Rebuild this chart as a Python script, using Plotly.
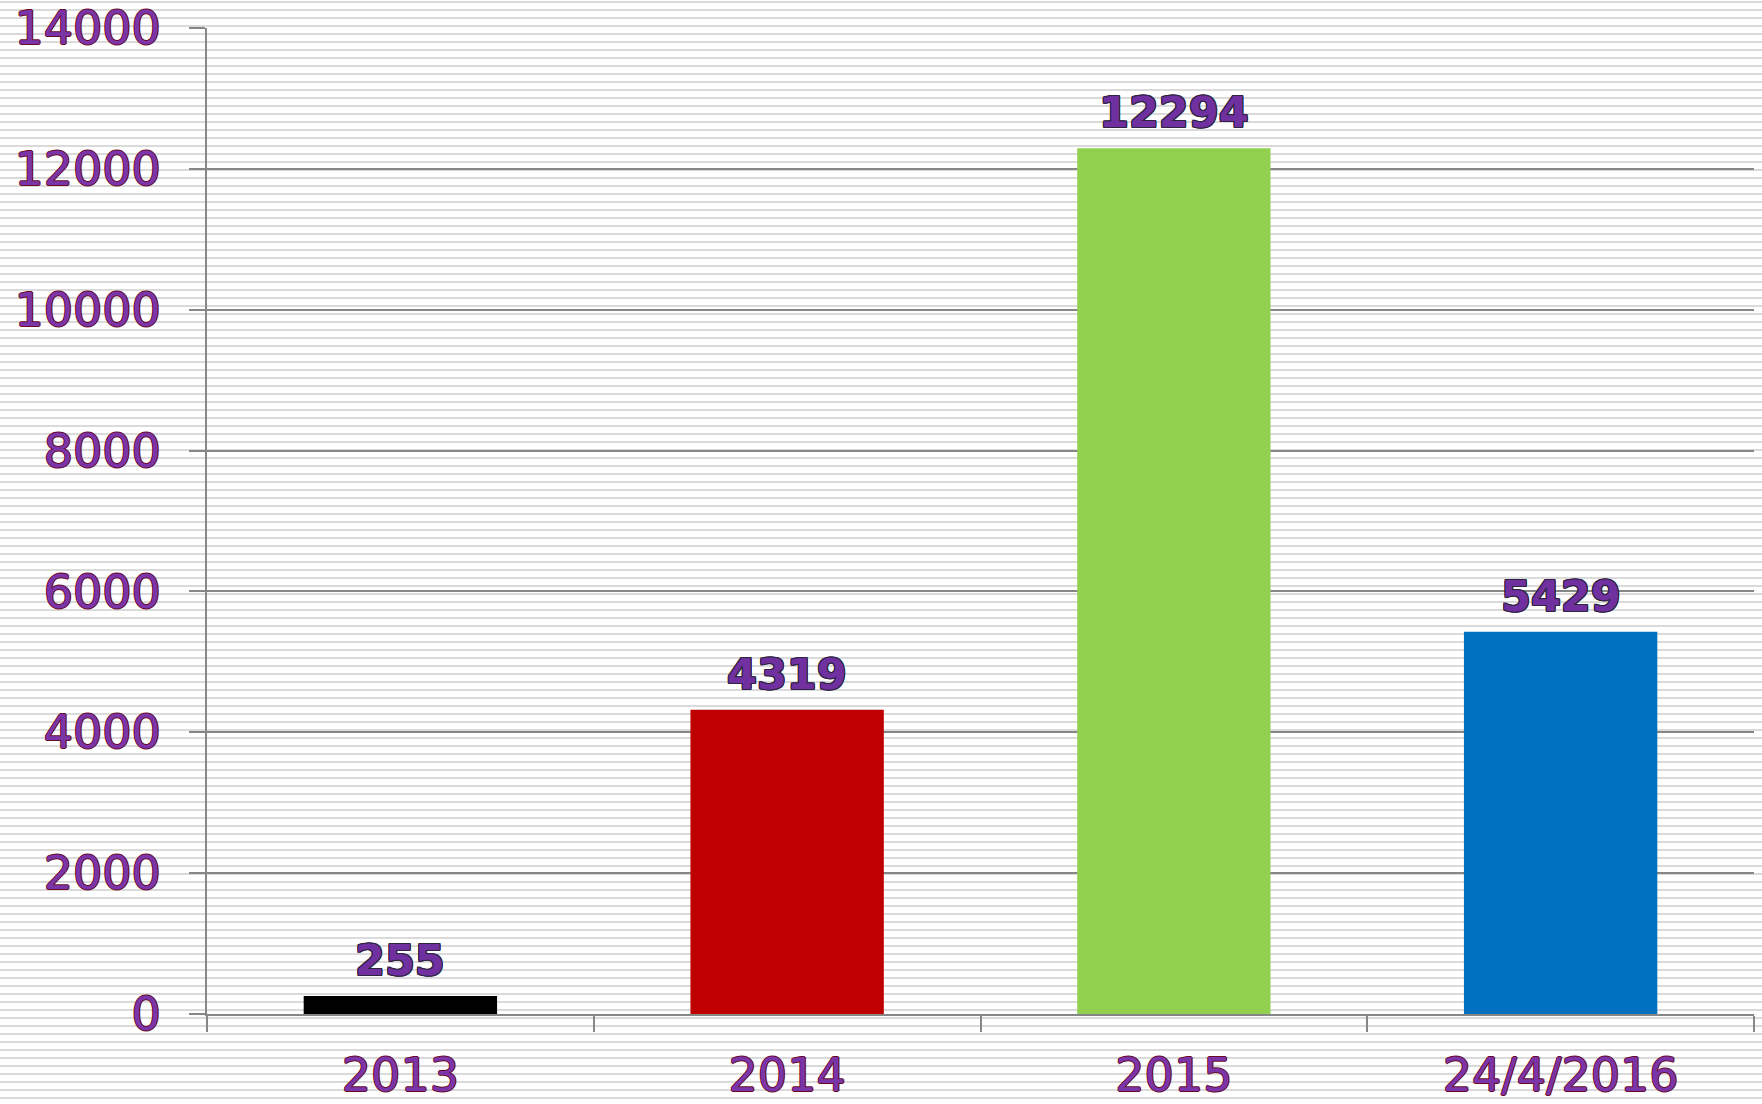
import plotly.graph_objects as go

categories = ["2013", "2014", "2015", "24/4/2016"]
values = [255, 4319, 12294, 5429]
bar_colors = ["#000000", "#C00000", "#92D050", "#0070C0"]
y_ticks = [0, 2000, 4000, 6000, 8000, 10000, 12000, 14000]
y_tick_labels = [str(v) for v in y_ticks]

W, H = 1762, 1104
ML, MR, MT, MB = 207, 8, 28, 90
PW, PH = W - ML - MR, H - MT - MB

def outline(c, w=1, diag=True):
    dirs = [(w, 0), (-w, 0), (0, w), (0, -w)]
    if diag:
        dirs += [(w, w), (-w, -w), (w, -w), (-w, w)]
    return ", ".join(f"{dx}px {dy}px 0 {c}" for dx, dy in dirs)

tick_font = dict(family="DejaVu Sans, Verdana", size=46, color="#7A35A8",
                 shadow=outline("#6A0A24", 1, False))
label_font = dict(family="DejaVu Sans, Verdana", size=43, color="#7030A0",
                  weight="bold", shadow=outline("#2E2440"))

fig = go.Figure()
fig.add_trace(go.Bar(x=categories, y=values, marker=dict(color=bar_colors, line=dict(width=0)),
                     width=0.5, hoverinfo="skip"))

for i, v in enumerate(values):
    fig.add_annotation(x=i, y=v, xref="x", yref="y", text=str(v), showarrow=False,
                       yanchor="bottom", yshift=9, font=label_font)

# striped background
shapes = []
x0 = -ML / PW
x1 = 1 + MR / PW
for k in range(0, H // 8 + 1):
    top = 1 + 8 * k
    bot = top + 2
    shapes.append(dict(type="rect", xref="paper", yref="paper", layer="below",
                       x0=x0, x1=x1, y0=(H - MB - bot) / PH, y1=(H - MB - top) / PH,
                       fillcolor="#DADADA", line=dict(width=0)))
fig.update_layout(shapes=shapes)

fig.update_layout(
    width=W, height=H,
    margin=dict(l=ML, r=MR, t=MT, b=MB, pad=0, autoexpand=False),
    paper_bgcolor="white", plot_bgcolor="rgba(0,0,0,0)",
    showlegend=False,
    xaxis=dict(type="category", showgrid=False, showline=True, linecolor="#868686", linewidth=2,
               ticks="outside", ticklen=16, tickwidth=2, tickcolor="#868686",
               tickson="boundaries", tickfont=tick_font, ticklabelstandoff=20,
               range=[-0.5, 3.5], automargin=False),
    yaxis=dict(range=[0, 14000], tickvals=y_ticks, ticktext=y_tick_labels, showgrid=True,
               gridcolor="#868686", gridwidth=2, showline=True, linecolor="#868686", linewidth=2,
               ticks="outside", ticklen=16, tickwidth=2, tickcolor="#868686",
               tickfont=tick_font, ticklabelstandoff=19, zeroline=False, automargin=False),
)

fig.write_html("out.html", config={"displayModeBar": False},
               post_script="document.body.style.margin='0px';document.body.style.overflow='hidden';")
